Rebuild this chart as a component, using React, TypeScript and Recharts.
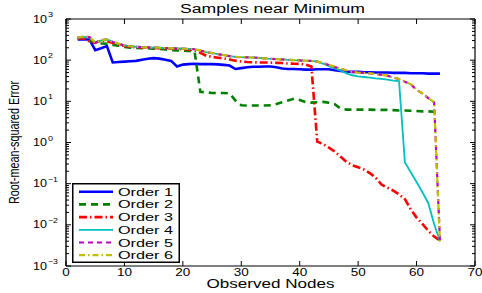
import { LineChart, Line, XAxis, YAxis, Legend } from 'recharts'

const nodes = [
  2, 3, 4, 5, 6, 7, 8, 9, 10, 11, 12, 13, 14, 15, 16, 17, 18, 19, 20, 21,
  22, 23, 24, 25, 26, 27, 28, 29, 30, 31, 32, 33, 34, 35, 36, 37, 38, 39, 40, 41,
  42, 43, 44, 45, 46, 47, 48, 49, 50, 51, 52, 53, 54, 55, 56, 57, 58, 59, 60, 61,
  62, 63, 64,
]

const order1 = [
  320, 322, 318, 175, 195, 220, 88, 90, 92, 94,
  96, 102, 108, 112, 109, 102, 96, 70, 78, 80,
  82, 80, 81, 80, 79, 77, 74, 61, 64, 67,
  69, 69, 70, 70, 67, 63, 61, 61, 60, 59,
  59, 60, 60, 60, 57, 55, 53, 52, 52, 51,
  51, 50, 50, 50, 49, 49, 49, 48, 48, 48,
  47, 47, 47,
]

const order2 = [
  340, 350, 300, 260, 255, 250, 235, 225, 210, 200,
  198, 195, 193, 190, 187, 182, 176, 172, 170, 168,
  165, 17, 16.5, 16, 16, 16, 15.5, 10.5, 8, 7.9,
  7.9, 7.9, 7.9, 8, 8.6, 9.5, 10.5, 11.5, 10.8, 9.6,
  9.3, 9.5, 9.7, 9.2, 8.5, 6.6, 6.3, 6.3, 6.3, 6.3,
  6.3, 6.2, 6.2, 6.2, 6.1, 6.0, 6.0, 5.9, 5.8, 5.7,
  5.7, 5.6, 5.6,
]

const order3 = [
  330, 340, 285, 265, 300, 290, 262, 240, 222, 212,
  207, 204, 202, 198, 195, 192, 190, 188, 185, 182,
  175, 150, 128, 120, 115, 110, 104, 97, 93, 90,
  89, 88, 88, 87, 86, 85, 83, 82, 81, 78,
  70, 1.05, 0.92, 0.75, 0.6, 0.45, 0.34, 0.28, 0.25, 0.22,
  0.18, 0.14, 0.095, 0.08, 0.068, 0.055, 0.042, 0.024, 0.015, 0.0105,
  0.0072, 0.0052, 0.0042,
]

const order4 = [
  350, 365, 360, 270, 300, 320, 280, 250, 228, 218,
  212, 207, 205, 202, 200, 197, 194, 192, 191, 189,
  182, 170, 156, 148, 140, 132, 125, 120, 118, 117,
  116, 114, 111, 108, 106, 104, 102, 100, 99, 97,
  96, 92, 82, 72, 63, 56, 48, 43, 40.5, 39,
  37.5, 36, 35, 33.5, 32, 31, 0.33, 0.19, 0.11, 0.062,
  0.034, 0.0105, 0.004,
]

const order5 = [
  360, 370, 365, 265, 305, 320, 275, 250, 226, 216,
  211, 206, 204, 201, 199, 196, 193, 191, 190, 188,
  184, 172, 158, 148, 140, 132, 125, 120, 118, 117,
  116, 114, 111, 108, 106, 104, 102, 100, 99, 97,
  96, 92, 85, 76, 68, 62, 56, 52, 50, 49,
  48, 46, 44, 42, 38, 35, 30, 26, 19, 15.5,
  12, 9.5, 0.0042,
]

const order6 = [
  355, 372, 368, 268, 300, 318, 278, 252, 228, 218,
  212, 207, 205, 202, 200, 197, 194, 192, 190, 188,
  185, 173, 158, 149, 141, 133, 126, 121, 119, 117,
  116, 114, 111, 108, 106, 104, 102, 100, 99, 97,
  96, 92, 86, 77, 69, 62, 57, 52, 50, 49,
  48, 46, 44, 42, 38, 35, 30, 26, 19.5, 15.5,
  12, 9.5, 0.0038,
]

const xTicks = [0, 10, 20, 30, 40, 50, 60, 70]
const yMajorTicks = [0.001, 0.01, 0.1, 1, 10, 100, 1000]
const yExponents = ['−3', '−2', '−1', '0', '1', '2', '3']
const yMinorSteps = [2, 3, 4, 5, 6, 7, 8, 9]

const FONT = '"Liberation Sans", Arial, Helvetica, sans-serif'

const seriesList = [
  { key: 'order1', name: 'Order 1', values: order1, color: '#0000FF', width: 2.6, dash: undefined },
  { key: 'order2', name: 'Order 2', values: order2, color: '#008000', width: 2.6, dash: '7 5' },
  { key: 'order3', name: 'Order 3', values: order3, color: '#FF0000', width: 2.6, dash: '8 3 1.5 3' },
  { key: 'order4', name: 'Order 4', values: order4, color: '#00BFBF', width: 1.8, dash: undefined },
  { key: 'order5', name: 'Order 5', values: order5, color: '#BF00BF', width: 2.2, dash: '5 4' },
  { key: 'order6', name: 'Order 6', values: order6, color: '#BFBF00', width: 2.2, dash: '6 3 1.5 3' },
]

const rows = nodes.map((n, i) => {
  const row: Record<string, number> = { node: n }
  seriesList.forEach((s) => {
    row[s.key] = s.values[i]
  })
  return row
})

const yAllTicks = [
  ...yMajorTicks,
  ...yMajorTicks.slice(0, -1).flatMap((m) => yMinorSteps.map((k) => k * m)),
].sort((a, b) => a - b)

function LeftTick({ x, y, payload }: any) {
  const idx = yMajorTicks.indexOf(payload.value)
  const major = idx >= 0
  const exp = major ? yExponents[idx] : ''
  return (
    <g>
      <line x1={x} x2={x + (major ? 5 : 3)} y1={y} y2={y} stroke="#000" strokeWidth={1} />
      {major && (
        <>
          <text x={x - 19} y={y + 3.6} textAnchor="end" fontSize={10} fontFamily={FONT} fill="#000"
            textLength={14} lengthAdjust="spacingAndGlyphs">10</text>
          <text x={x - 18} y={y - 2} textAnchor="start" fontSize={7} fontFamily={FONT} fill="#000"
            textLength={exp.length * 5} lengthAdjust="spacingAndGlyphs">{exp}</text>
        </>
      )}
    </g>
  )
}

function RightTick({ x, y, payload }: any) {
  const major = yMajorTicks.indexOf(payload.value) >= 0
  return <line x1={x} x2={x - (major ? 5 : 3)} y1={y} y2={y} stroke="#000" strokeWidth={1} />
}

function BottomTick({ x, y, payload }: any) {
  const s = String(payload.value)
  return (
    <g>
      <line x1={x} x2={x} y1={y} y2={y - 5} stroke="#000" strokeWidth={1} />
      <text x={x} y={y + 9.5} textAnchor="middle" fontSize={10} fontFamily={FONT} fill="#000"
        textLength={s.length * 7.5} lengthAdjust="spacingAndGlyphs">{s}</text>
    </g>
  )
}

function TopTick({ x, y }: any) {
  return <line x1={x} x2={x} y1={y} y2={y + 5} stroke="#000" strokeWidth={1} />
}

function TitleLabel({ viewBox }: any) {
  const vb = viewBox ?? { x: 66, y: 0, width: 409, height: 19 }
  return (
    <text x={vb.x + vb.width / 2 + 2} y={13} textAnchor="middle" fontSize={12} fontFamily={FONT} fill="#000"
      textLength={185} lengthAdjust="spacingAndGlyphs">Samples near Minimum</text>
  )
}

function XTitle({ viewBox }: any) {
  const vb = viewBox ?? { x: 66, y: 266, width: 409, height: 27 }
  return (
    <text x={vb.x + vb.width / 2} y={288} textAnchor="middle" fontSize={12.5} fontFamily={FONT} fill="#000"
      textLength={128} lengthAdjust="spacingAndGlyphs">Observed Nodes</text>
  )
}

function YTitle({ viewBox }: any) {
  const vb = viewBox ?? { x: 0, y: 19, width: 66, height: 247 }
  const cy = vb.y + vb.height / 2
  return (
    <text transform={`translate(18.5, ${cy}) rotate(-90) scale(1, 1.3)`} textAnchor="middle" fontSize={11}
      fontFamily={FONT} fill="#000" textLength={123} lengthAdjust="spacingAndGlyphs">Root-mean-squared Error</text>
  )
}

function LegendBox({ payload }: any) {
  const entries = (payload ?? []).map(
    (p: any, i: number) => seriesList.find((s) => s.key === p.dataKey) ?? seriesList[i],
  )
  return (
    <svg width={108} height={80} style={{ display: 'block' }}>
      <rect x={0.75} y={0.75} width={106.5} height={78.5} fill="#fff" stroke="#000" strokeWidth={1.5} />
      {entries.map((s: any, i: number) => {
        const cy = 8.7 + i * 12.7
        return (
          <g key={s.key}>
            <line x1={7} x2={41} y1={cy} y2={cy} stroke={s.color} strokeWidth={s.width} strokeDasharray={s.dash} />
            <text x={46} y={cy + 4} fontSize={11} fontFamily={FONT} fill="#000"
              textLength={55} lengthAdjust="spacingAndGlyphs">{s.name}</text>
          </g>
        )
      })}
    </svg>
  )
}

export default function App() {
  return (
    <div style={{ position: 'absolute', left: 0, top: 0, width: 482, height: 293, background: '#fff' }}>
      <LineChart width={482} height={293} data={rows} margin={{ top: 0, right: 0, bottom: 0, left: 0 }}>
        <XAxis
          xAxisId="b"
          dataKey="node"
          type="number"
          domain={[0, 70]}
          allowDataOverflow
          ticks={xTicks}
          interval={0}
          orientation="bottom"
          height={27}
          tickLine={false}
          tickSize={0}
          tickMargin={0}
          tick={(p: any) => <BottomTick {...p} />}
          axisLine={{ stroke: '#000', strokeWidth: 1.2 }}
          label={(p: any) => <XTitle viewBox={p.viewBox} />}
        />
        <XAxis
          xAxisId="t"
          dataKey="node"
          type="number"
          domain={[0, 70]}
          allowDataOverflow
          ticks={xTicks}
          interval={0}
          orientation="top"
          height={19}
          tickLine={false}
          tickSize={0}
          tickMargin={0}
          tick={(p: any) => <TopTick {...p} />}
          axisLine={{ stroke: '#000', strokeWidth: 1.2 }}
          label={(p: any) => <TitleLabel viewBox={p.viewBox} />}
        />
        <YAxis
          yAxisId="l"
          type="number"
          scale="log"
          domain={[0.001, 1000]}
          allowDataOverflow
          ticks={yAllTicks}
          interval={0}
          width={66}
          tickLine={false}
          tickSize={0}
          tickMargin={0}
          tick={(p: any) => <LeftTick {...p} />}
          axisLine={{ stroke: '#000', strokeWidth: 1.4 }}
          label={(p: any) => <YTitle viewBox={p.viewBox} />}
        />
        <YAxis
          yAxisId="r"
          orientation="right"
          type="number"
          scale="log"
          domain={[0.001, 1000]}
          allowDataOverflow
          ticks={yAllTicks}
          interval={0}
          width={7}
          tickLine={false}
          tickSize={0}
          tickMargin={0}
          tick={(p: any) => <RightTick {...p} />}
          axisLine={{ stroke: '#000', strokeWidth: 1.2 }}
        />
        <Legend
          layout="vertical"
          align="center"
          verticalAlign="middle"
          wrapperStyle={{ left: 72, top: 183, width: 108, height: 80 }}
          content={(p: any) => <LegendBox payload={p.payload} />}
        />
        {seriesList.map((s) => (
          <Line
            key={s.key}
            xAxisId="b"
            yAxisId="l"
            type="linear"
            dataKey={s.key}
            name={s.name}
            stroke={s.color}
            strokeWidth={s.width}
            strokeDasharray={s.dash}
            dot={false}
            activeDot={false}
            isAnimationActive={false}
          />
        ))}
      </LineChart>
    </div>
  )
}
